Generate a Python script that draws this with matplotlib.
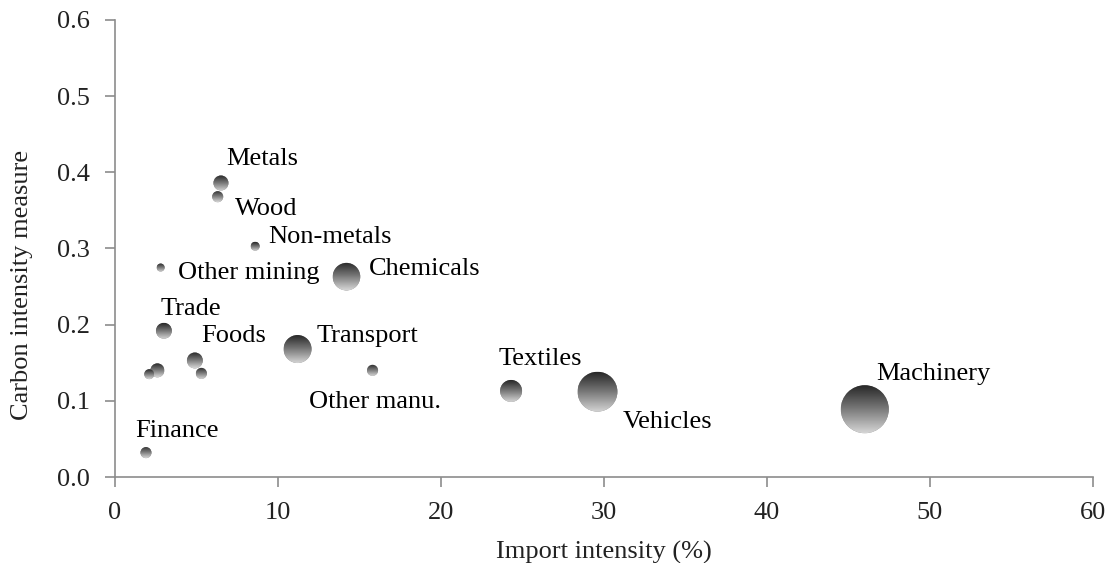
import numpy as np
import matplotlib
matplotlib.use("Agg")
import matplotlib.pyplot as plt
from matplotlib.patches import Circle
from matplotlib.transforms import Affine2D, ScaledTranslation
from matplotlib.colors import LinearSegmentedColormap

# ---------------- data ----------------
sectors = ["Metals", "Wood", "Non-metals", "Other mining", "Chemicals", "Trade",
           "Foods", "", "", "", "Transport", "Other manu.", "Finance",
           "Textiles", "Vehicles", "Machinery"]
import_intensity = [6.5, 6.3, 8.6, 2.8, 14.2, 3.0, 4.9, 5.3, 2.6, 2.1,
                    11.2, 15.8, 1.9, 24.3, 29.6, 46.0]
carbon_intensity = [0.386, 0.368, 0.303, 0.275, 0.263, 0.192, 0.153, 0.136,
                    0.140, 0.135, 0.168, 0.140, 0.032, 0.113, 0.112, 0.089]
bubble_size = [9.8, 5.3, 3.5, 2.8, 33, 11, 11, 5.3, 8.5, 4.3,
               34, 5.3, 5.3, 21, 69, 100]

x_ticks = [0, 10, 20, 30, 40, 50, 60]
y_ticks = [0.0, 0.1, 0.2, 0.3, 0.4, 0.5, 0.6]
x_label = "Import intensity (%)"
y_label = "Carbon intensity measure"

# label offsets in pixels (dx, dy) relative to bubble centre (layout only)
label_offsets = {
    "Metals": (5, 18), "Wood": (17, -18), "Non-metals": (13, 3),
    "Other mining": (17, -11), "Chemicals": (22, 2), "Trade": (-3, 16),
    "Foods": (6, 18), "Transport": (19, 7), "Other manu.": (-64, -38),
    "Finance": (-11, 16), "Textiles": (-13, 26), "Vehicles": (25, -36),
    "Machinery": (11, 29),
}

# ---------------- figure ----------------
plt.rcParams['font.family'] = ['Liberation Serif', 'DejaVu Serif']
DPI = 100
fig = plt.figure(figsize=(11.11, 5.63), dpi=DPI)
ax = fig.add_axes([115 / 1111, 1 - 477 / 563, (1093 - 115) / 1111, (477 - 20) / 563])
ax.set_xlim(0, 60)
ax.set_ylim(0, 0.6)

grad = np.linspace(0, 1, 64).reshape(-1, 1)
cmap = LinearSegmentedColormap.from_list("bub", ["#282828", "#7a7a7a", "#d4d4d4"])
max_r = 24.0  # pixel radius of largest bubble

radii = [max_r * np.sqrt(v / max(bubble_size)) for v in bubble_size]
ax.scatter(import_intensity, carbon_intensity,
           s=[(2 * r * 72 / DPI) ** 2 for r in radii],
           color="#8a8a8a", edgecolors="none", zorder=2)

for x, y, r in zip(import_intensity, carbon_intensity, radii):
    trans = Affine2D().scale(r) + ScaledTranslation(x, y, ax.transData)
    circ = Circle((0, 0), 1.0, transform=trans, facecolor="none", edgecolor="none")
    im = ax.imshow(grad, extent=(-1, 1, -1, 1), cmap=cmap, origin="upper",
                   aspect="auto", interpolation="bilinear", transform=trans, zorder=3)
    im.set_clip_path(circ)

ax.set_xlim(0, 60)
ax.set_ylim(0, 0.6)

for name, x, y in zip(sectors, import_intensity, carbon_intensity):
    if not name:
        continue
    dx, dy = label_offsets[name]
    ax.annotate(name, (x, y), xytext=(dx, dy), textcoords="offset pixels",
                ha="left", va="baseline", fontsize=19, color="black", zorder=4)

for s in ["top", "right"]:
    ax.spines[s].set_visible(False)
for s in ["left", "bottom"]:
    ax.spines[s].set_color("#8c8c8c")
    ax.spines[s].set_linewidth(1.2)

ax.set_xticks(x_ticks)
ax.set_xticklabels([str(t) for t in x_ticks])
ax.set_yticks(y_ticks)
ax.set_yticklabels([f"{t:.1f}" for t in y_ticks])
ax.tick_params(axis="both", direction="out", length=7, width=1.2, color="#8c8c8c",
               labelsize=19, labelcolor="#222222")
ax.tick_params(axis="x", pad=11)
ax.tick_params(axis="y", pad=11)

ax.set_xlabel(x_label, fontsize=19, color="#222222", labelpad=12)
ax.set_ylabel(y_label, fontsize=19, color="#222222")
ax.yaxis.set_label_coords(-0.084, 0.42)

fig.savefig("out.png", dpi=DPI)
